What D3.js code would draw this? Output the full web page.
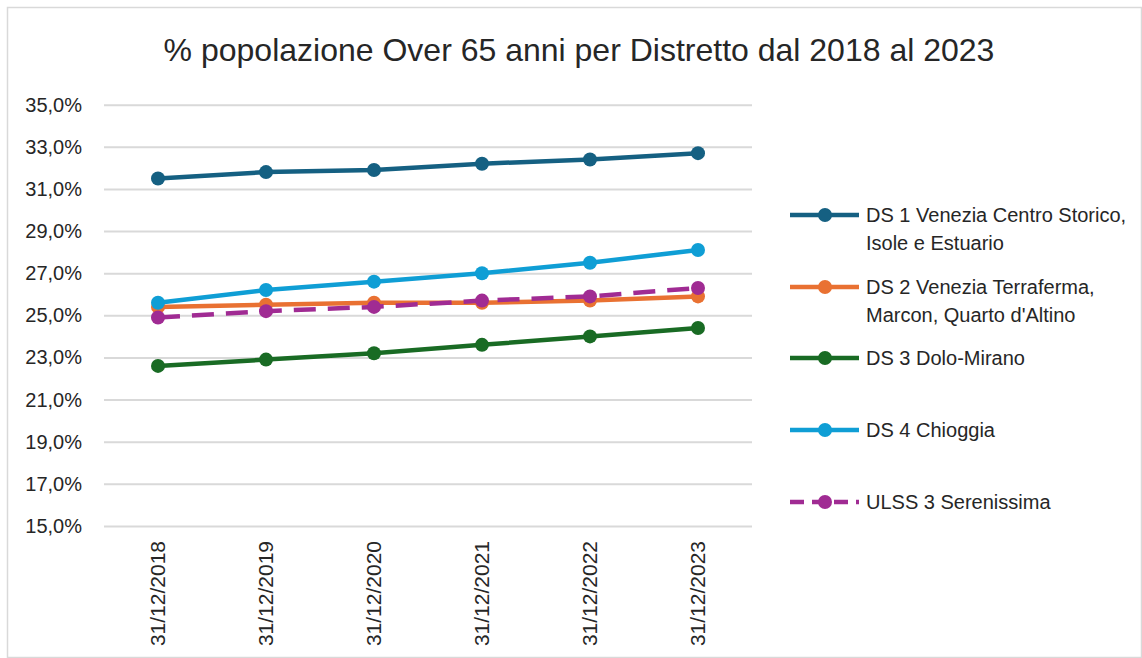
<!DOCTYPE html>
<html>
<head>
<meta charset="utf-8">
<script src="https://cdn.jsdelivr.net/npm/d3@7"></script>
<style>
  body { margin: 0; background: #fff; }
  text { font-family: "Liberation Sans", Arial, sans-serif; fill: #262626; }
</style>
</head>
<body>
<script>
/////////////////////////////////////////////////
// data
/////////////////////////////////////////////////
var categories = ["31/12/2018", "31/12/2019", "31/12/2020",
                  "31/12/2021", "31/12/2022", "31/12/2023"];

var ds1  = [31.5, 31.8, 31.9, 32.2, 32.4, 32.7];
var ds2  = [25.4, 25.5, 25.6, 25.6, 25.7, 25.9];
var ds3  = [22.6, 22.9, 23.2, 23.6, 24.0, 24.4];
var ds4  = [25.6, 26.2, 26.6, 27.0, 27.5, 28.1];
var ulss = [24.9, 25.2, 25.4, 25.7, 25.9, 26.3];

var seriesNames = [
  ["DS 1 Venezia Centro Storico,", "Isole e Estuario"],
  ["DS 2 Venezia Terraferma,", "Marcon, Quarto d'Altino"],
  ["DS 3 Dolo-Mirano"],
  ["DS 4 Chioggia"],
  ["ULSS 3 Serenissima"]
];
var seriesColors = ["#156082", "#E97132", "#196B24", "#0F9ED5", "#A02B93"];
var yTicks = [15, 17, 19, 21, 23, 25, 27, 29, 31, 33, 35];

var title = "% popolazione Over 65 anni per Distretto dal 2018 al 2023";

/////////////////////////////////////////////////
// locals
/////////////////////////////////////////////////
var width  = 1142,
    height = 658;

var plotLeft   = 104,
    plotRight  = 752,
    plotTop    = 104.7,
    plotBottom = 526;

var series = [ds1, ds2, ds3, ds4, ulss].map(function(v, i) {
  return { name: seriesNames[i], color: seriesColors[i], values: v, dashed: i === 4 };
});

var svg = d3.select("body")
    .append("svg")
    .attr("width", width)
    .attr("height", height);

// outer frame
svg.append("rect")
  .attr("x", 7.5).attr("y", 7.5)
  .attr("width", width - 8).attr("height", height - 8)
  .attr("fill", "#fff")
  .attr("stroke", "#d9d9d9")
  .attr("stroke-width", 1.5);

svg.append("text")
  .attr("x", 579)
  .attr("y", 61)
  .attr("text-anchor", "middle")
  .style("font-size", "32px")
  .text(title);

/////////////////////////////////////////////////
// scales + axes
/////////////////////////////////////////////////
var x = d3.scaleBand().domain(categories).range([plotLeft, plotRight]);
var y = d3.scaleLinear().domain([15, 35]).range([plotBottom, plotTop]);

var fmt = function(d) { return d3.format(".1f")(d).replace(".", ",") + "%"; };

var yAxis = svg.append("g")
  .attr("transform", "translate(" + plotLeft + ",0)")
  .call(d3.axisLeft(y).tickValues(yTicks).tickFormat(fmt)
          .tickSize(-(plotRight - plotLeft)).tickPadding(22));
yAxis.select(".domain").remove();
yAxis.selectAll("line").attr("stroke", "#d9d9d9").attr("stroke-width", 2);
yAxis.selectAll("text")
  .style("font-size", "20px")
  .style("font-family", "Liberation Sans, Arial, sans-serif")
  .attr("fill", "#262626");

var xAxis = svg.append("g")
  .attr("transform", "translate(0," + plotBottom + ")")
  .call(d3.axisBottom(x).tickSize(0));
xAxis.select(".domain").remove();
xAxis.selectAll("text")
  .style("font-size", "21px")
  .style("font-family", "Liberation Sans, Arial, sans-serif")
  .attr("fill", "#262626")
  .attr("text-anchor", "end")
  .attr("transform", "rotate(-90)")
  .attr("x", -15)
  .attr("y", 0)
  .attr("dx", 0)
  .attr("dy", "0.35em");

/////////////////////////////////////////////////
// lines + markers
/////////////////////////////////////////////////
var line = d3.line()
  .x(function(d, i) { return x(categories[i]) + x.bandwidth() / 2; })
  .y(function(d) { return y(d); });

var groups = svg.selectAll("g.series").data(series).enter()
  .append("g").attr("class", "series");

groups.append("path")
  .attr("d", function(d) { return line(d.values); })
  .attr("fill", "none")
  .attr("stroke", function(d) { return d.color; })
  .attr("stroke-width", 4.5)
  .attr("stroke-linejoin", "round")
  .attr("stroke-dasharray", function(d) { return d.dashed ? "22,12" : null; });

groups.selectAll("circle")
  .data(function(d) { return d.values.map(function(v) { return { v: v, c: d.color }; }); })
  .enter().append("circle")
  .attr("cx", function(d, i) { return x(categories[i]) + x.bandwidth() / 2; })
  .attr("cy", function(d) { return y(d.v); })
  .attr("r", 7)
  .attr("fill", function(d) { return d.c; });

/////////////////////////////////////////////////
// legend
/////////////////////////////////////////////////
var legendY = [215, 287, 358, 430, 502];

var legend = svg.selectAll("g.legend").data(series).enter()
  .append("g").attr("class", "legend")
  .attr("transform", function(d, i) { return "translate(790," + legendY[i] + ")"; });

legend.append("line")
  .attr("x1", 0).attr("x2", 69)
  .attr("stroke", function(d) { return d.color; })
  .attr("stroke-width", 4.5)
  .attr("stroke-dasharray", function(d) { return d.dashed ? "14,8" : null; });

legend.append("circle")
  .attr("cx", 35).attr("r", 7)
  .attr("fill", function(d) { return d.color; });

legend.append("text")
  .attr("x", 76)
  .attr("y", 0)
  .style("font-size", "20px")
  .selectAll("tspan")
  .data(function(d) { return d.name; })
  .enter().append("tspan")
  .attr("x", 76)
  .attr("dy", function(d, i) { return i === 0 ? "0.35em" : "28px"; })
  .text(function(d) { return d; });
</script>
</body>
</html>
